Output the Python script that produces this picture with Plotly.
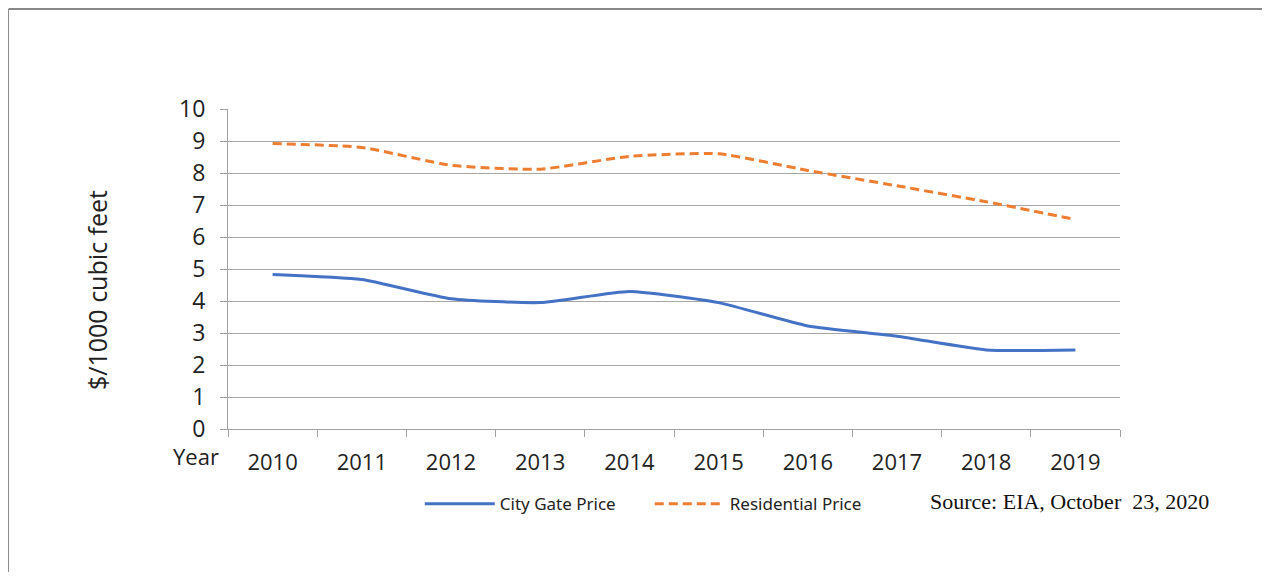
import plotly.graph_objects as go

years = ["2010", "2011", "2012", "2013", "2014", "2015", "2016", "2017", "2018", "2019"]
city_gate = [4.83, 4.67, 4.07, 3.95, 4.30, 3.95, 3.22, 2.90, 2.47, 2.47]
residential = [8.92, 8.80, 8.24, 8.12, 8.52, 8.60, 8.08, 7.60, 7.10, 6.55]
y_ticks = list(range(0, 11))

fig = go.Figure()
fig.add_trace(go.Scatter(
    x=years, y=city_gate, name="City Gate Price", mode="lines",
    line=dict(color="#4472C4", width=3, shape="spline", smoothing=0.5),
))
fig.add_trace(go.Scatter(
    x=years, y=residential, name="Residential Price", mode="lines",
    line=dict(color="#ED7D31", width=3, dash="9px,5px", shape="spline", smoothing=0.5),
))

fig.update_layout(
    width=1254, height=564,
    margin=dict(l=220, r=142, t=101, b=143),
    paper_bgcolor="white", plot_bgcolor="white",
    font=dict(family="Open Sans, Noto Sans, sans-serif", color="#222222"),
    showlegend=True,
    legend=dict(orientation="h", x=0.215, xanchor="left", y=-0.235, yanchor="middle",
                font=dict(size=17, family="Noto Sans, sans-serif"),
                itemwidth=70, entrywidth=145, entrywidthmode="pixels",
                bgcolor="rgba(0,0,0,0)"),
    xaxis=dict(
        type="category", tickson="boundaries", ticks="outside", ticklen=7,
        tickcolor="#a0a0a0", showline=True, linecolor="#a0a0a0", linewidth=1,
        showgrid=False, tickfont=dict(size=22), range=[-0.5, 9.5],
        ticklabelstandoff=14,
    ),
    yaxis=dict(
        range=[0, 10], tickvals=y_ticks, ticks="outside", ticklen=7,
        tickcolor="#a0a0a0", showline=True, linecolor="#a0a0a0", linewidth=1,
        gridcolor="#a6a6a6", gridwidth=1, tickfont=dict(size=23), zeroline=False,
        ticklabelstandoff=10,
    ),
)

fig.add_annotation(text="$/1000 cubic feet", xref="paper", yref="paper",
                   x=-0.147, y=0.434, textangle=-90, xanchor="center", yanchor="middle",
                   showarrow=False, font=dict(size=25))
fig.add_annotation(text="Year", xref="paper", yref="paper", x=-0.036, y=-0.085,
                   xanchor="center", yanchor="middle", showarrow=False,
                   font=dict(size=22))
fig.add_annotation(text="Source: EIA, October  23, 2020", xref="paper", yref="paper",
                   x=0.785, y=-0.228, xanchor="left", yanchor="middle", showarrow=False,
                   font=dict(size=22, family="Liberation Serif, serif", color="#111111"))

# outer frame
fig.add_shape(type="line", xref="paper", yref="paper", x0=-0.246, x1=1.2,
              y0=1.3125, y1=1.3125, line=dict(color="#888888", width=2))
fig.add_shape(type="line", xref="paper", yref="paper", x0=-0.246, x1=-0.246,
              y0=1.3125, y1=-0.5, line=dict(color="#888888", width=1))

fig.write_html("out.html")
